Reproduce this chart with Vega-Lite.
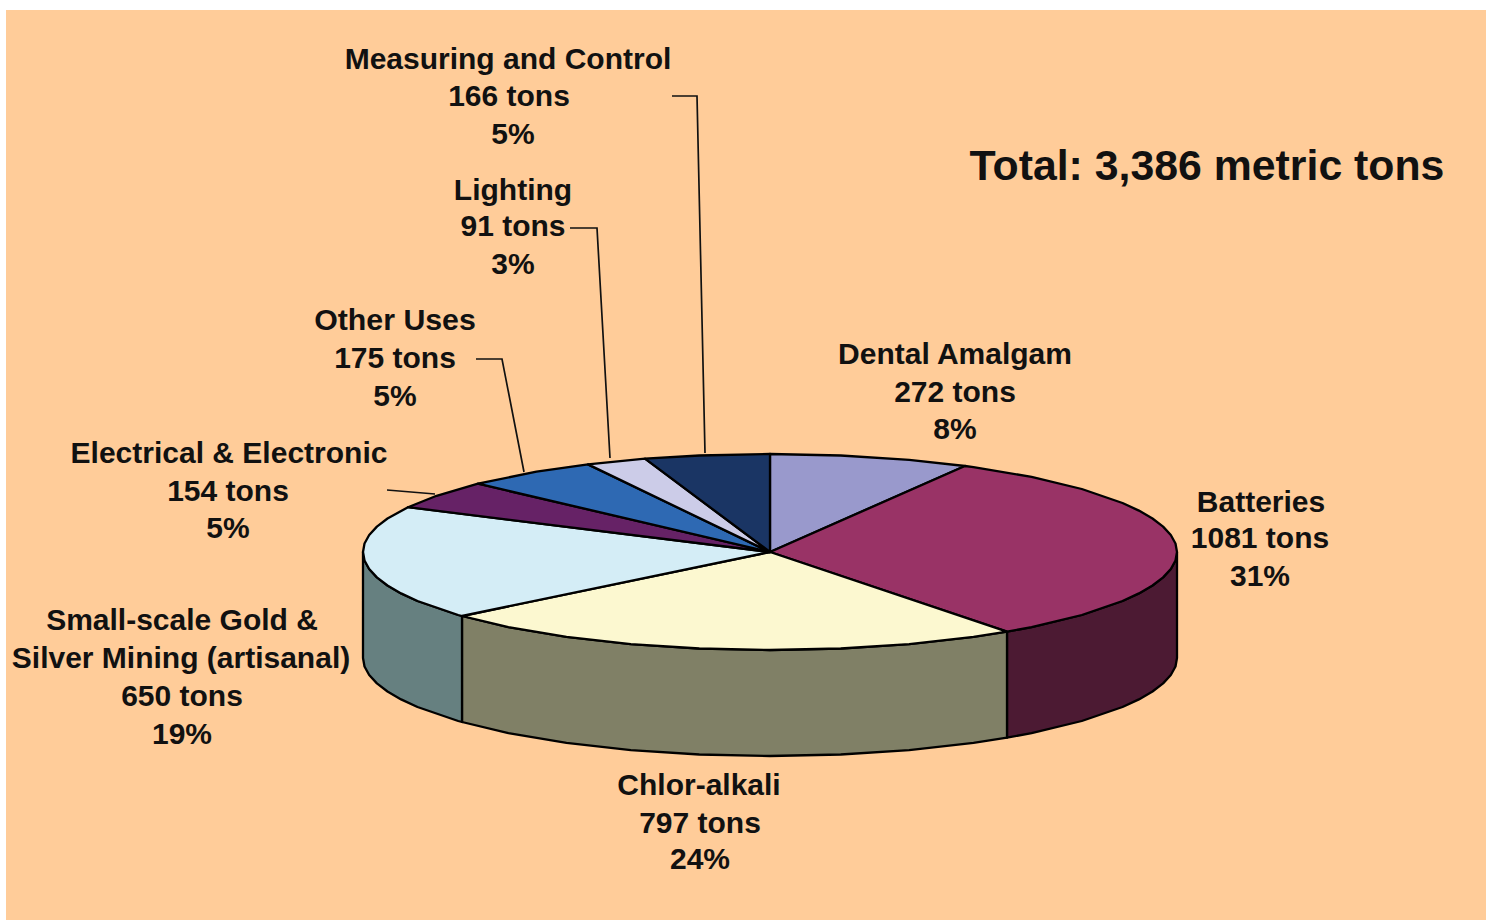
{
"$schema":"https://vega.github.io/schema/vega-lite/v6.json",
"width":1486,"height":920,"padding":0,"autosize":{"type":"none"},
"background":"#ffffff",
"config":{"view":{"stroke":null}},
"projection":{"type":"identity","reflectY":true,"scale":1,"translate":[770,552]},
"layer":[
{"data":{"values":[{"type":"Feature","properties":{"part":"panel"},"geometry":{"type":"Polygon","coordinates":[[[-764,542],[716,542],[716,-368],[-764,-368],[-764,542]]]}}]},
 "mark":{"type":"geoshape","fill":"#ffcc99","stroke":null},"encoding":{}},
{"data":{"values":[
{"type":"Feature","properties":{"face":"Batteries side","tons":1081},"geometry":{"type":"Polygon","coordinates":[[[407,0],[405.5,-8.5],[400.8,-17],[393.1,-25.4],[382.5,-33.5],[368.9,-41.4],[352.5,-49],[311.8,-63],[261.6,-75.1],[237,-79.7],[237,-185.7],[261.6,-181.1],[311.8,-169],[352.5,-155],[368.9,-147.4],[382.5,-139.5],[393.1,-131.4],[400.8,-123],[405.5,-114.5],[407,-106],[407,0]]]}},
{"type":"Feature","properties":{"face":"Chlor-alkali side","tons":797},"geometry":{"type":"Polygon","coordinates":[[[237,-79.7],[203.5,-84.9],[139.2,-92.1],[70.7,-96.5],[0,-98],[-70.7,-96.5],[-139.2,-92.1],[-203.5,-84.9],[-261.6,-75.1],[-308,-64],[-308,-170],[-261.6,-181.1],[-203.5,-190.9],[-139.2,-198.1],[-70.7,-202.5],[0,-204],[70.7,-202.5],[139.2,-198.1],[203.5,-190.9],[237,-185.7],[237,-79.7]]]}},
{"type":"Feature","properties":{"face":"Small-scale side","tons":650},"geometry":{"type":"Polygon","coordinates":[[[-308,-64],[-311.8,-63],[-352.5,-49],[-368.9,-41.4],[-382.5,-33.5],[-393.1,-25.4],[-400.8,-17],[-405.5,-8.5],[-407,0],[-407,-106],[-405.5,-114.5],[-400.8,-123],[-393.1,-131.4],[-382.5,-139.5],[-368.9,-147.4],[-352.5,-155],[-311.8,-169],[-308,-170],[-308,-64]]]}},
{"type":"Feature","properties":{"face":"Dental Amalgam","tons":272},"geometry":{"type":"Polygon","coordinates":[[[0,0],[0,98],[70.7,96.5],[139.2,92.1],[195,86],[0,0]]]}},
{"type":"Feature","properties":{"face":"Batteries","tons":1081},"geometry":{"type":"Polygon","coordinates":[[[0,0],[195,86],[203.5,84.9],[261.6,75.1],[311.8,63],[352.5,49],[368.9,41.4],[382.5,33.5],[393.1,25.4],[400.8,17],[405.5,8.5],[407,0],[405.5,-8.5],[400.8,-17],[393.1,-25.4],[382.5,-33.5],[368.9,-41.4],[352.5,-49],[311.8,-63],[261.6,-75.1],[237,-79.7],[0,0]]]}},
{"type":"Feature","properties":{"face":"Chlor-alkali","tons":797},"geometry":{"type":"Polygon","coordinates":[[[0,0],[237,-79.7],[203.5,-84.9],[139.2,-92.1],[70.7,-96.5],[0,-98],[-70.7,-96.5],[-139.2,-92.1],[-203.5,-84.9],[-261.6,-75.1],[-308,-64],[0,0]]]}},
{"type":"Feature","properties":{"face":"Small-scale Gold & Silver Mining","tons":650},"geometry":{"type":"Polygon","coordinates":[[[0,0],[-308,-64],[-311.8,-63],[-352.5,-49],[-368.9,-41.4],[-382.5,-33.5],[-393.1,-25.4],[-400.8,-17],[-405.5,-8.5],[-407,0],[-405.5,8.5],[-400.8,17],[-393.1,25.4],[-382.5,33.5],[-362,44.8],[0,0]]]}},
{"type":"Feature","properties":{"face":"Electrical & Electronic","tons":154},"geometry":{"type":"Polygon","coordinates":[[[0,0],[-362,44.8],[-333.4,56.2],[-292,68.3],[0,0]]]}},
{"type":"Feature","properties":{"face":"Other Uses","tons":175},"geometry":{"type":"Polygon","coordinates":[[[0,0],[-292,68.3],[-233.5,80.3],[-182,87.6],[0,0]]]}},
{"type":"Feature","properties":{"face":"Lighting","tons":91},"geometry":{"type":"Polygon","coordinates":[[[0,0],[-182,87.6],[-125,93.3],[0,0]]]}},
{"type":"Feature","properties":{"face":"Measuring and Control","tons":166},"geometry":{"type":"Polygon","coordinates":[[[0,0],[-125,93.3],[-70.7,96.5],[0,98],[0,0]]]}}
]},
 "mark":{"type":"geoshape","stroke":"#000000","strokeWidth":2.3,"strokeJoin":"round"},
 "encoding":{"color":{"field":"properties.face","type":"nominal","legend":null,"scale":{
 "domain":["Dental Amalgam","Batteries","Chlor-alkali","Small-scale Gold & Silver Mining","Electrical & Electronic","Other Uses","Lighting","Measuring and Control","Batteries side","Chlor-alkali side","Small-scale side"],
 "range":["#9999cc","#993366","#fcf8d0","#d4edf6","#662266","#2e69b3","#cccce8","#1a3564","#4c1a33","#808066","#668080"]}}}},
{"data":{"values":[
{"type":"Feature","properties":{"leader":"Measuring and Control"},"geometry":{"type":"LineString","coordinates":[[-98,456],[-73,456],[-65,99]]}},
{"type":"Feature","properties":{"leader":"Lighting"},"geometry":{"type":"LineString","coordinates":[[-200,324],[-173,324],[-160,94]]}},
{"type":"Feature","properties":{"leader":"Other Uses"},"geometry":{"type":"LineString","coordinates":[[-294,193],[-268,193],[-246,80]]}},
{"type":"Feature","properties":{"leader":"Electrical & Electronic"},"geometry":{"type":"LineString","coordinates":[[-383,62],[-335,58]]}}
]},
 "mark":{"type":"geoshape","filled":false,"stroke":"#111111","strokeWidth":1.7},"encoding":{}},
{"data":{"values":[
{"line":"Measuring and Control","lon":-262,"lat":492,"size":30},
{"line":"166 tons","lon":-261,"lat":455,"size":30},
{"line":"5%","lon":-257,"lat":417,"size":30},
{"line":"Lighting","lon":-257,"lat":361,"size":30},
{"line":"91 tons","lon":-257,"lat":325,"size":30},
{"line":"3%","lon":-257,"lat":287,"size":30},
{"line":"Other Uses","lon":-375,"lat":231,"size":30.3},
{"line":"175 tons","lon":-375,"lat":193,"size":30},
{"line":"5%","lon":-375,"lat":155,"size":30},
{"line":"Electrical & Electronic","lon":-541,"lat":98,"size":30},
{"line":"154 tons","lon":-542,"lat":60,"size":30},
{"line":"5%","lon":-542,"lat":23,"size":30},
{"line":"Small-scale Gold &","lon":-588,"lat":-69,"size":30},
{"line":"Silver Mining (artisanal)","lon":-589,"lat":-107,"size":30},
{"line":"650 tons","lon":-588,"lat":-145,"size":30},
{"line":"19%","lon":-588,"lat":-183,"size":30},
{"line":"Chlor-alkali","lon":-71,"lat":-234,"size":30},
{"line":"797 tons","lon":-70,"lat":-272,"size":30},
{"line":"24%","lon":-70,"lat":-308,"size":30},
{"line":"Batteries","lon":491,"lat":49,"size":30},
{"line":"1081 tons","lon":490,"lat":13,"size":30},
{"line":"31%","lon":490,"lat":-25,"size":30},
{"line":"Dental Amalgam","lon":185,"lat":197,"size":30},
{"line":"272 tons","lon":185,"lat":159,"size":30},
{"line":"8%","lon":185,"lat":122,"size":30},
{"line":"Total: 3,386 metric tons","lon":437,"lat":385,"size":42.8}
]},
 "mark":{"type":"text","font":"Liberation Sans","fontWeight":"bold","align":"center","baseline":"middle","color":"#111111"},
 "encoding":{"longitude":{"field":"lon","type":"quantitative"},"latitude":{"field":"lat","type":"quantitative"},"text":{"field":"line","type":"nominal"},"size":{"field":"size","type":"quantitative","scale":null}}}
]
}
